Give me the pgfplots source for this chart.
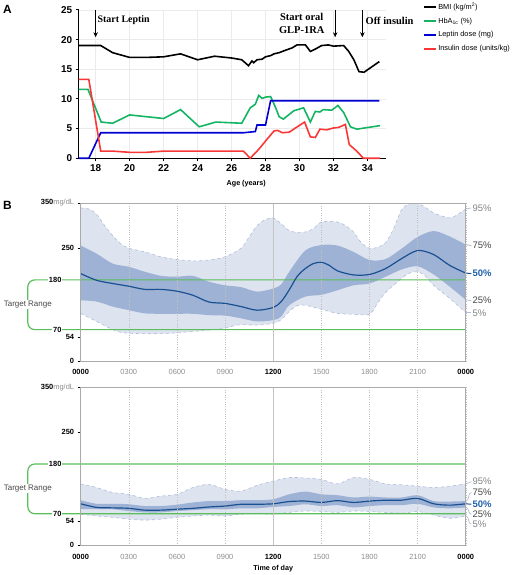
\documentclass[border=0pt]{standalone}
\usepackage{pgfplots}
\pgfplotsset{compat=1.18}
\usepgfplotslibrary{fillbetween}
\usetikzlibrary{arrows.meta}
\usepackage{fontspec}
\setmainfont{Liberation Sans}
\newfontfamily\serifb{Liberation Serif}
\definecolor{cbmi}{RGB}{0,0,0}
\definecolor{chba}{RGB}{20,180,100}
\definecolor{clep}{RGB}{0,0,210}
\definecolor{cins}{RGB}{250,55,55}
\definecolor{bandlight}{RGB}{221,227,239}
\definecolor{bandedge}{RGB}{175,190,218}
\definecolor{banddark}{RGB}{158,178,213}
\definecolor{cmed}{RGB}{25,80,145}
\definecolor{ctarget}{RGB}{90,190,90}
\definecolor{cframe}{RGB}{170,170,170}
\definecolor{cgrayt}{RGB}{140,140,140}
\definecolor{clab}{RGB}{70,70,70}
\definecolor{clab2}{RGB}{130,130,130}
\definecolor{c50}{RGB}{30,95,170}
\pgfplotsset{
  bpanel/.style={
    scale only axis, width=387pt, height=159pt,
    xmin=0, xmax=24, ymin=0, ymax=350,
    axis on top, clip=false,
    axis line style={cframe, line width=1pt},
    xtick={0,3,...,24},
    xticklabels={\textcolor{black}{\bfseries 0000},0300,0600,0900,\textcolor{black}{\bfseries 1200},1500,1800,2100,\textcolor{black}{\bfseries 0000}},
    x tick label style={font=\fontsize{7.5}{7.5}\selectfont, text=cgrayt, yshift=-2pt},
    xtick style={draw=none},
    xmajorgrids, grid style={cframe!75, dotted, line width=0.5pt},
    extra x ticks={12}, extra x tick labels={},
    extra x tick style={grid style={solid, cframe!70, line width=0.7pt}, xtick style={draw=none}},
    ytick={0,54,250,350},
    yticklabels={0,54,250,{350\textcolor{cgrayt}{\mdseries mg/dL}}},
    y tick label style={font=\bfseries\fontsize{7.5}{7.5}\selectfont, text=black},
    ytick pos=left, tick align=outside, major tick length=3pt,
    ytick style={black, line width=0.6pt},
  },
  band95/.style={draw=bandedge, dashed, line width=0.6pt, smooth},
  bandmid/.style={draw=none, smooth},
  medline/.style={cmed, line width=1.2pt, smooth},
}
\newcommand{\targetrange}{%
  \draw[ctarget, line width=1.2pt, rounded corners=7pt] (axis cs:24,180) -- (axis cs:-3.29,180) -- (axis cs:-3.29,70) -- (axis cs:24,70);
  \node[fill=white, text=clab, font=\fontsize{8}{8}\selectfont, inner sep=1pt] at (axis cs:-3.29,125) {Target Range};
  \node[fill=white, anchor=east, font=\bfseries\fontsize{7.5}{7.5}\selectfont, inner sep=1pt] at (axis cs:-1.12,180) {180};
  \node[fill=white, anchor=east, font=\bfseries\fontsize{7.5}{7.5}\selectfont, inner sep=1pt] at (axis cs:-1.12,70) {70};
}
\begin{document}
\begin{tikzpicture}
\path (0pt,0pt) rectangle (520pt,575pt);
\node[anchor=north west, font=\bfseries\fontsize{12}{12}\selectfont, inner sep=0pt] at (3pt,570pt) {A};
\node[anchor=north west, font=\bfseries\fontsize{12}{12}\selectfont, inner sep=0pt] at (3pt,373pt) {B};

% ---------------- Panel A ----------------
\begin{axis}[
  at={(79pt,416pt)}, anchor=south west, scale only axis,
  width=309pt, height=149pt,
  xmin=17, xmax=35.1, ymin=0, ymax=25,
  axis lines=left, axis line style={line width=1.2pt, -},
  xtick={18,20,...,34}, ytick={0,5,...,25},
  tick style={line width=1.1pt, black}, tick align=outside, major tick length=3pt,
  grid=major, grid style={black!8, line width=0.5pt},
  tick label style={font=\bfseries\fontsize{10}{10}\selectfont},
  /pgf/number format/assume math mode=true,
  xlabel={Age (years)},
  xlabel style={font=\bfseries\fontsize{7.2}{7.2}\selectfont, at={(axis description cs:0.545,-0.17)}, anchor=center},
  clip=false,
  legend style={at={(axis description cs:1.12,1.06)}, anchor=north west, draw=none, fill=none,
    font=\fontsize{7.4}{8}\selectfont, row sep=4pt, inner sep=0pt, nodes={inner sep=1.5pt}},
  legend cell align=left,
  legend image code/.code={\draw[#1, line width=1.6pt] (0pt,0pt) -- (12pt,0pt);},
]
\addplot[cbmi, line width=1.6pt] coordinates {
(17,19) (17.6,19) (18.3,19) (19.0,17.8) (20,17.0) (21,17.0) (22,17.1) (23,17.6) (24,16.6) (25,17.2) (26,16.9) (26.6,16.6) (27.0,15.6) (27.2,16.4) (27.3,16.1) (27.5,16.6) (27.8,16.7) (28.0,17.1) (28.3,17.3) (28.5,17.6) (28.8,17.8) (29.17,18.2) (29.56,18.6) (29.85,19.1) (30.35,19.1) (30.64,18.0) (30.93,18.4) (31.3,19.0) (31.7,19.1) (32.0,18.9) (32.6,19.0) (32.9,18.0) (33.2,16.6) (33.5,14.6) (33.8,14.5) (34.7,16.3)};
\addlegendentry{BMI (kg/m\textsuperscript{2})}
\addplot[chba, line width=1.6pt] coordinates {
(17,11.6) (17.55,11.6) (18.33,6.1) (19.0,5.9) (20,7.3) (22,6.7) (23,8.2) (24.1,5.3) (25.07,6.1) (26.6,5.9) (27.1,8.5) (27.4,9.1) (27.6,10.6) (27.8,10.1) (28.0,10.3) (28.3,10.4) (28.6,8.5) (28.8,7.0) (29.05,6.6) (29.4,7.4) (29.66,8.0) (30.24,8.5) (30.64,6.1) (30.93,7.9) (31.2,7.8) (31.4,8.2) (31.9,8.1) (32.26,8.9) (32.6,7.7) (33.0,5.3) (33.37,4.9) (34.74,5.5)};
\addlegendentry{HbA\textsubscript{1c} (\%)}
\addplot[clep, line width=1.6pt] coordinates {
(17,0) (17.6,0) (18.3,4.3) (26.7,4.3) (27.4,4.5) (27.5,5.6) (28.0,5.6) (28.3,9.7) (34.7,9.7)};
\addlegendentry{Leptin dose (mg)}
\addplot[cins, line width=1.6pt] coordinates {
(17,13.3) (17.6,13.3) (18.3,1.2) (19,1.2) (20,1.0) (21,1.0) (22,1.2) (26.7,1.2) (27.1,0) (27.6,1.5) (28.0,2.9) (28.5,4.6) (28.7,4.7) (29.0,4.3) (29.4,4.4) (29.76,5.1) (30.3,6.1) (30.64,3.6) (30.93,3.5) (31.2,4.9) (31.6,4.8) (32.0,5.1) (32.3,5.2) (32.7,5.7) (32.93,2.3) (33.37,1.2) (33.76,0) (34.74,0)};
\addlegendentry{Insulin dose (units/kg)}
\draw[-{Stealth[length=5pt,width=4.5pt]}, line width=1.2pt] (axis cs:18,25) -- (axis cs:18,20.4);
\node[anchor=west, font=\serifb\bfseries\fontsize{10}{10}\selectfont, inner sep=0pt] at (axis cs:18.1,23.3) {Start Leptin};
\draw[-{Stealth[length=5pt,width=4.5pt]}, line width=1.2pt] (axis cs:32.1,25) -- (axis cs:32.1,20.4);
\node[align=center, font=\serifb\bfseries\fontsize{10.5}{13}\selectfont, inner sep=0pt] at (axis cs:30.13,22.7) {Start oral\\GLP-1RA};
\draw[-{Stealth[length=5pt,width=4.5pt]}, line width=1.2pt] (axis cs:33.7,25) -- (axis cs:33.7,20.4);
\node[anchor=west, font=\serifb\bfseries\fontsize{10.5}{10.5}\selectfont, inner sep=0pt] at (axis cs:33.88,23.15) {Off insulin};
\end{axis}

% ---------------- Panel B top ----------------
\begin{axis}[bpanel, at={(81pt,212pt)}, anchor=south west]
\addplot[band95, name path=a95] coordinates {
(0,339) (0.5,337) (1,325) (1.5,300) (2,278) (2.5,260) (3,250) (4,242) (5,231) (6,225) (7,222) (8,224) (9,231) (10,250) (10.5,275) (11,300) (11.5,313) (12,317) (12.5,304) (13,289) (13.5,285) (14,286) (14.5,293) (15,308) (16,308) (16.5,300) (17,286) (17.5,262) (18,250) (18.5,252) (19,262) (19.5,293) (20,335) (20.5,348) (21,349) (21.5,340) (22,328) (23,317) (23.5,325) (24,337)};
\addplot[band95, name path=a5] coordinates {
(0,106) (1,88) (2,70) (2.5,64) (3,62) (4,61) (5,61) (6,63) (7,66) (8,69) (9,73) (9.5,78) (10,81) (11,80) (12,84) (12.5,92) (13,110) (13.5,123) (14,124) (15,115) (16,106) (17,104) (18,104) (18.5,128) (19,152) (20,183) (20.5,195) (21,198) (21.5,188) (22,168) (23,139) (24,108)};
\addplot[bandlight] fill between[of=a95 and a5];
\addplot[bandmid, name path=a75] coordinates {
(0,256) (1,238) (2,216) (3,209) (4,198) (5,189) (6,187) (7,189) (8,176) (9,168) (10,164) (11,154) (12,161) (12.5,170) (13,198) (14,245) (15,257) (16,256) (17,242) (18,224) (19,226) (20,249) (21,275) (22,288) (23,276) (24,258)};
\addplot[bandmid, name path=a25] coordinates {
(0,135) (1,132) (2,121) (3,113) (4,106) (5,105) (6,105) (7,105) (8,102) (9,101) (10,95) (11,88) (12,91) (12.5,99) (13,124) (14,143) (15,147) (16,157) (17,168) (18,172) (19,187) (20,203) (21,210) (22,192) (23,165) (24,136)};
\addplot[banddark] fill between[of=a75 and a25];
\targetrange
\addplot[medline] coordinates {
(0,194) (1,179) (2,172) (3,166) (4,159) (5,159) (6,155) (7,146) (8,131) (9,128) (10,121) (11,113) (12,119) (12.5,132) (13,158) (13.5,188) (14,205) (14.5,216) (15,219) (15.5,212) (16,200) (17,191) (18,192) (19,205) (20,227) (21,245) (22,236) (23,212) (24,195)};
\draw[bandedge, line width=0.7pt] (axis cs:24,337) -- (axis cs:24.35,339);
\draw[cframe, line width=0.7pt] (axis cs:24,258) -- (axis cs:24.35,256);
\draw[cmed, line width=1pt] (axis cs:24,195) -- (axis cs:24.35,194);
\draw[bandedge, line width=0.7pt] (axis cs:24,136) -- (axis cs:24.35,134);
\draw[bandedge, line width=0.7pt] (axis cs:24,108) -- (axis cs:24.35,108);
\node[anchor=west, text=clab2, font=\fontsize{9.5}{10}\selectfont, inner sep=1pt] at (axis cs:24.35,339) {95\%};
\node[anchor=west, text=clab, font=\fontsize{9.5}{10}\selectfont, inner sep=1pt] at (axis cs:24.35,256) {75\%};
\node[anchor=west, text=c50, font=\bfseries\fontsize{9.5}{10}\selectfont, inner sep=1pt] at (axis cs:24.35,194) {50\%};
\node[anchor=west, text=clab, font=\fontsize{9.5}{10}\selectfont, inner sep=1pt] at (axis cs:24.35,134) {25\%};
\node[anchor=west, text=clab2, font=\fontsize{9.5}{10}\selectfont, inner sep=1pt] at (axis cs:24.35,106) {5\%};
\end{axis}

% ---------------- Panel B bottom ----------------
\begin{axis}[bpanel, at={(81pt,27pt)}, anchor=south west,
  xlabel={Time of day},
  xlabel style={font=\bfseries\fontsize{7.2}{7.2}\selectfont, at={(axis description cs:0.5,-0.145)}, anchor=center}]
\addplot[band95, name path=b95] coordinates {
(0,136) (1,128) (2,117) (3,113) (4,104) (5,109) (6,113) (7,128) (8,135) (9,124) (10,120) (11,133) (12,142) (13,150) (14,149) (15,146) (16,136) (17,150) (18,146) (19,136) (20,134) (21,131) (22,128) (23,131) (24,136)};
\addplot[band95, name path=b5] coordinates {
(0,69) (1,65) (2,62) (3,58) (4,56) (5,58) (6,62) (7,65) (8,67) (9,65) (10,69) (11,70) (12,69) (13,73) (14,76) (15,75) (16,73) (17,76) (18,75) (19,73) (20,71) (21,75) (22,67) (23,60) (24,65)};
\addplot[bandlight] fill between[of=b95 and b5];
\addplot[bandmid, name path=b75] coordinates {
(0,100) (1,92) (2,92) (3,91) (4,87) (5,87) (6,90) (7,95) (8,98) (9,98) (10,100) (11,100) (12,102) (13,113) (14,119) (15,113) (16,111) (17,106) (18,108) (19,106) (20,106) (21,111) (22,98) (23,97) (24,98)};
\addplot[bandmid, name path=b25] coordinates {
(0,80) (1,80) (2,80) (3,76) (4,73) (5,73) (6,76) (7,78) (8,80) (9,80) (10,82) (11,82) (12,85) (13,87) (14,91) (15,87) (16,89) (17,84) (18,87) (19,89) (20,89) (21,92) (22,84) (23,82) (24,84)};
\addplot[banddark] fill between[of=b75 and b25];
\targetrange
\addplot[medline] coordinates {
(0,92) (1,84) (2,83) (3,82) (4,78) (5,78) (6,80) (7,82) (8,85) (9,87) (10,91) (11,91) (12,92) (13,97) (14,98) (15,95) (16,99) (17,95) (18,98) (19,100) (20,100) (21,104) (22,92) (23,89) (24,92)};
\draw[bandedge, line width=0.7pt] (axis cs:24,136) to[out=0,in=180] (axis cs:24.35,141);
\draw[bandedge, line width=0.7pt] (axis cs:24,98) to[out=0,in=180] (axis cs:24.35,117);
\draw[cmed, line width=1pt] (axis cs:24,92) -- (axis cs:24.35,91);
\draw[bandedge, line width=0.7pt] (axis cs:24,84) to[out=0,in=180] (axis cs:24.35,69);
\draw[bandedge, line width=0.7pt] (axis cs:24,65) to[out=0,in=180] (axis cs:24.35,47);
\node[anchor=west, text=clab2, font=\fontsize{9.5}{10}\selectfont, inner sep=1pt] at (axis cs:24.35,141) {95\%};
\node[anchor=west, text=clab, font=\fontsize{9.5}{10}\selectfont, inner sep=1pt] at (axis cs:24.35,117) {75\%};
\node[anchor=west, text=c50, font=\bfseries\fontsize{9.5}{10}\selectfont, inner sep=1pt] at (axis cs:24.35,91) {50\%};
\node[anchor=west, text=clab, font=\fontsize{9.5}{10}\selectfont, inner sep=1pt] at (axis cs:24.35,69) {25\%};
\node[anchor=west, text=clab2, font=\fontsize{9.5}{10}\selectfont, inner sep=1pt] at (axis cs:24.35,47) {5\%};
\end{axis}
\end{tikzpicture}
\end{document}
